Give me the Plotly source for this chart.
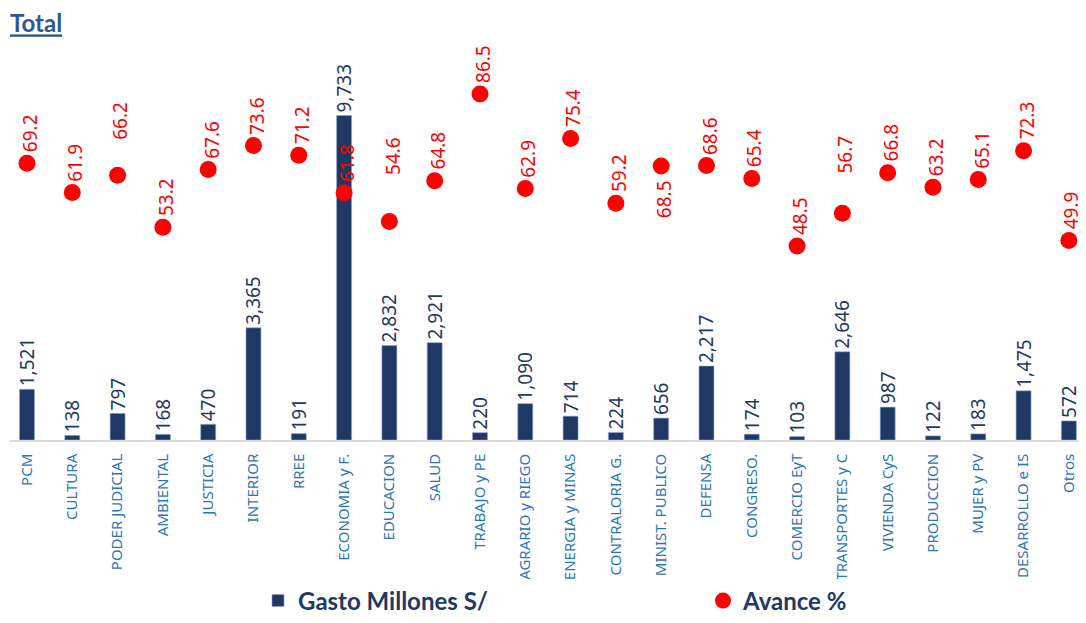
import plotly.graph_objects as go

categories = ["PCM", "CULTURA", "PODER JUDICIAL", "AMBIENTAL", "JUSTICIA", "INTERIOR", "RREE",
              "ECONOMIA y F.", "EDUCACION", "SALUD", "TRABAJO y PE", "AGRARIO y RIEGO",
              "ENERGIA y MINAS", "CONTRALORIA G.", "MINIST. PUBLICO", "DEFENSA", "CONGRESO.",
              "COMERCIO EyT", "TRANSPORTES y C", "VIVIENDA CyS", "PRODUCCION", "MUJER y PV",
              "DESARROLLO e IS", "Otros"]
gasto = [1521, 138, 797, 168, 470, 3365, 191, 9733, 2832, 2921, 220, 1090, 714, 224, 656,
         2217, 174, 103, 2646, 987, 122, 183, 1475, 572]
avance = [69.2, 61.9, 66.2, 53.2, 67.6, 73.6, 71.2, 61.8, 54.6, 64.8, 86.5, 62.9, 75.4, 59.2,
          68.5, 68.6, 65.4, 48.5, 56.7, 66.8, 63.2, 65.1, 72.3, 49.9]

# label placement tweaks (style only): extra lift for some labels, one placed below
label_lift = {"PODER JUDICIAL": 24, "EDUCACION": 36, "TRANSPORTES y C": 29}
label_below = {"MINIST. PUBLICO"}

NAVY = "#1F3864"
RED = "#FF0000"
LABEL_FONT = "Noto Sans"
BOLD_FONT = "Lato"

W, H = 1078, 607  # page body has an 8px margin

x_idx = list(range(len(categories)))

fig = go.Figure()
fig.add_trace(go.Bar(
    x=x_idx, y=gasto, name="<b>Gasto Millones S/</b>",
    marker=dict(color=NAVY, line=dict(color="#8FA3C8", width=0.6)),
    width=0.33,
    text=[f"{v:,}" for v in gasto], textposition="outside", textangle=-90,
    textfont=dict(family=LABEL_FONT, size=19, color=NAVY), constraintext="none",
    cliponaxis=False,
))
fig.add_trace(go.Scatter(
    x=x_idx, y=avance, name="<b>Avance %</b>", yaxis="y2", mode="markers",
    marker=dict(color=RED, size=17, symbol="circle"), cliponaxis=False,
))

annotations = []
for i, (cat, v) in enumerate(zip(categories, avance)):
    if cat in label_below:
        ya, ys = "top", -12
    else:
        ya, ys = "bottom", 9 + label_lift.get(cat, 0)
    annotations.append(dict(
        x=i, y=v, xref="x", yref="y2", text=f"{v:.1f}", showarrow=False,
        textangle=-90, xanchor="center", yanchor=ya, yshift=ys, xshift=3,
        font=dict(family=LABEL_FONT, size=19, color=RED),
    ))

fig.update_layout(
    width=W, height=H,
    margin=dict(l=2, r=2, t=32, b=175),
    paper_bgcolor="white", plot_bgcolor="white",
    title=dict(text="<b><u>Total</u></b>", x=2 / W, xref="container", xanchor="left",
               y=1 - 16 / H, yref="container", yanchor="middle",
               font=dict(family=BOLD_FONT, size=24, color="#2F5597")),
    xaxis=dict(tickmode="array", tickvals=x_idx, ticktext=categories, tickangle=-90,
               range=[-0.375, 23.334], showgrid=False, zeroline=False, automargin=False,
               showline=True, linecolor="#D9D9D9", linewidth=1.5, ticks="",
               ticklabelstandoff=6,
               tickfont=dict(family=LABEL_FONT, size=15, color="#2E75B6")),
    yaxis=dict(range=[0, 12000], visible=False, showgrid=False, zeroline=False,
               automargin=False),
    yaxis2=dict(range=[0, 100], overlaying="y", side="right", visible=False,
                showgrid=False, zeroline=False, automargin=False),
    showlegend=True,
    legend=dict(orientation="h", xref="container", yref="container",
                x=250 / W, xanchor="left", y=1 - 593 / H, yanchor="middle",
                entrywidth=400, entrywidthmode="pixels",
                font=dict(family=BOLD_FONT, size=24, color=NAVY)),
    annotations=annotations,
)

fig.write_html("out.html")
